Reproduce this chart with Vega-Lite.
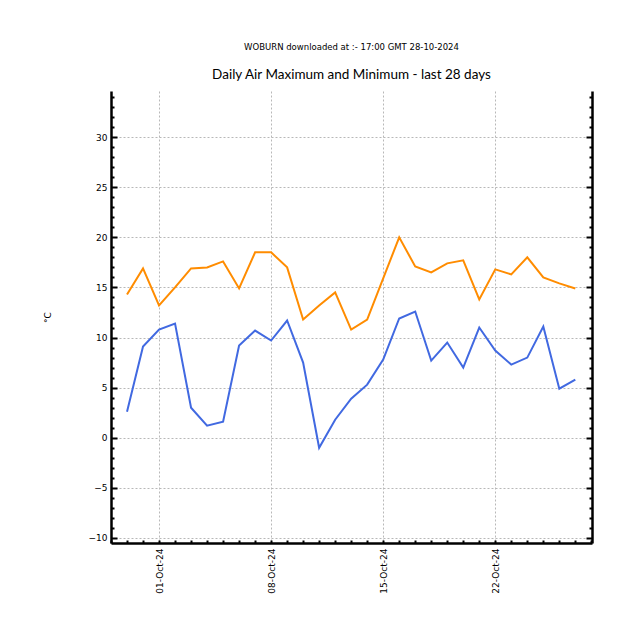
{
  "$schema": "https://vega.github.io/schema/vega-lite/v6.json",
  "width": 481,
  "height": 452,
  "autosize": {"type": "none"},
  "padding": {"left": 111, "top": 91, "right": 45, "bottom": 94},
  "background": "white",
  "config": {
    "view": {"stroke": null},
    "font": "DejaVu Sans"
  },
  "title": {
    "text": "WOBURN downloaded at :- 17:00 GMT 28-10-2024",
    "subtitle": "Daily Air Maximum and Minimum - last 28 days",
    "font": "DejaVu Sans",
    "fontSize": 8.5,
    "fontWeight": "normal",
    "color": "#000000",
    "subtitleFont": "Lato",
    "subtitleFontSize": 13.5,
    "subtitleColor": "#000000",
    "subtitlePadding": 16,
    "anchor": "middle",
    "offset": 10
  },
  "data": {
    "values": [
      {"date": "2024-09-29T00:00", "series": "Maximum", "temp": 14.3},
      {"date": "2024-09-30T00:00", "series": "Maximum", "temp": 16.9},
      {"date": "2024-10-01T00:00", "series": "Maximum", "temp": 13.2},
      {"date": "2024-10-02T00:00", "series": "Maximum", "temp": 15.0},
      {"date": "2024-10-03T00:00", "series": "Maximum", "temp": 16.9},
      {"date": "2024-10-04T00:00", "series": "Maximum", "temp": 17.0},
      {"date": "2024-10-05T00:00", "series": "Maximum", "temp": 17.6},
      {"date": "2024-10-06T00:00", "series": "Maximum", "temp": 14.9},
      {"date": "2024-10-07T00:00", "series": "Maximum", "temp": 18.5},
      {"date": "2024-10-08T00:00", "series": "Maximum", "temp": 18.5},
      {"date": "2024-10-09T00:00", "series": "Maximum", "temp": 17.0},
      {"date": "2024-10-10T00:00", "series": "Maximum", "temp": 11.8},
      {"date": "2024-10-11T00:00", "series": "Maximum", "temp": 13.2},
      {"date": "2024-10-12T00:00", "series": "Maximum", "temp": 14.5},
      {"date": "2024-10-13T00:00", "series": "Maximum", "temp": 10.8},
      {"date": "2024-10-14T00:00", "series": "Maximum", "temp": 11.8},
      {"date": "2024-10-15T00:00", "series": "Maximum", "temp": 15.9},
      {"date": "2024-10-16T00:00", "series": "Maximum", "temp": 20.0},
      {"date": "2024-10-17T00:00", "series": "Maximum", "temp": 17.1},
      {"date": "2024-10-18T00:00", "series": "Maximum", "temp": 16.5},
      {"date": "2024-10-19T00:00", "series": "Maximum", "temp": 17.4},
      {"date": "2024-10-20T00:00", "series": "Maximum", "temp": 17.7},
      {"date": "2024-10-21T00:00", "series": "Maximum", "temp": 13.8},
      {"date": "2024-10-22T00:00", "series": "Maximum", "temp": 16.8},
      {"date": "2024-10-23T00:00", "series": "Maximum", "temp": 16.3},
      {"date": "2024-10-24T00:00", "series": "Maximum", "temp": 18.0},
      {"date": "2024-10-25T00:00", "series": "Maximum", "temp": 16.0},
      {"date": "2024-10-26T00:00", "series": "Maximum", "temp": 15.4},
      {"date": "2024-10-27T00:00", "series": "Maximum", "temp": 14.9},
      {"date": "2024-09-29T00:00", "series": "Minimum", "temp": 2.6},
      {"date": "2024-09-30T00:00", "series": "Minimum", "temp": 9.1},
      {"date": "2024-10-01T00:00", "series": "Minimum", "temp": 10.8},
      {"date": "2024-10-02T00:00", "series": "Minimum", "temp": 11.4},
      {"date": "2024-10-03T00:00", "series": "Minimum", "temp": 3.0},
      {"date": "2024-10-04T00:00", "series": "Minimum", "temp": 1.2},
      {"date": "2024-10-05T00:00", "series": "Minimum", "temp": 1.6},
      {"date": "2024-10-06T00:00", "series": "Minimum", "temp": 9.2},
      {"date": "2024-10-07T00:00", "series": "Minimum", "temp": 10.7},
      {"date": "2024-10-08T00:00", "series": "Minimum", "temp": 9.7},
      {"date": "2024-10-09T00:00", "series": "Minimum", "temp": 11.7},
      {"date": "2024-10-10T00:00", "series": "Minimum", "temp": 7.5},
      {"date": "2024-10-11T00:00", "series": "Minimum", "temp": -1.0},
      {"date": "2024-10-12T00:00", "series": "Minimum", "temp": 1.8},
      {"date": "2024-10-13T00:00", "series": "Minimum", "temp": 3.9},
      {"date": "2024-10-14T00:00", "series": "Minimum", "temp": 5.3},
      {"date": "2024-10-15T00:00", "series": "Minimum", "temp": 7.8},
      {"date": "2024-10-16T00:00", "series": "Minimum", "temp": 11.9},
      {"date": "2024-10-17T00:00", "series": "Minimum", "temp": 12.6},
      {"date": "2024-10-18T00:00", "series": "Minimum", "temp": 7.7},
      {"date": "2024-10-19T00:00", "series": "Minimum", "temp": 9.5},
      {"date": "2024-10-20T00:00", "series": "Minimum", "temp": 7.0},
      {"date": "2024-10-21T00:00", "series": "Minimum", "temp": 11.0},
      {"date": "2024-10-22T00:00", "series": "Minimum", "temp": 8.7},
      {"date": "2024-10-23T00:00", "series": "Minimum", "temp": 7.3},
      {"date": "2024-10-24T00:00", "series": "Minimum", "temp": 8.0},
      {"date": "2024-10-25T00:00", "series": "Minimum", "temp": 11.1},
      {"date": "2024-10-26T00:00", "series": "Minimum", "temp": 4.9},
      {"date": "2024-10-27T00:00", "series": "Minimum", "temp": 5.8}
    ]
  },
  "layer": [
    {
      "mark": {"type": "line", "strokeWidth": 2},
      "encoding": {
        "x": {
          "field": "date",
          "type": "temporal",
          "scale": {"domain": [{"year": 2024, "month": 9, "date": 28}, {"year": 2024, "month": 10, "date": 28, "hours": 1}]},
          "axis": {
            "orient": "bottom",
            "title": null,
            "tickCount": {"interval": "day", "step": 1},
            "labelExpr": "(month(datum.value) == 9 && indexof([1, 8, 15, 22], date(datum.value)) >= 0) ? timeFormat(datum.value, '%d-%b-%y') : ''",
            "labelAngle": -90,
            "labelAlign": "right",
            "labelBaseline": "middle",
            "labelFontSize": 9,
            "labelColor": "#000000",
            "labelPadding": 8,
            "labelOverlap": false,
            "labelFlush": false,
            "domainColor": "#000000",
            "domainWidth": 2.5,
            "tickColor": "#000000",
            "tickWidth": 2,
            "tickSize": -3,
            "grid": true,
            "gridColor": "#b8b8b8",
            "gridDash": [2, 2],
            "gridWidth": 1,
            "gridOpacity": {"condition": {"test": "month(datum.value) == 9 && indexof([1, 8, 15, 22], date(datum.value)) >= 0", "value": 1}, "value": 0}
          }
        },
        "y": {
          "field": "temp",
          "type": "quantitative",
          "scale": {"domain": [-10.5, 34.6], "nice": false, "zero": false},
          "axis": {
            "orient": "left",
            "title": "°C",
            "titleFont": "DejaVu Sans",
            "titleFontSize": 9,
            "titleFontWeight": "normal",
            "titleColor": "#000000",
            "titlePadding": 36,
            "values": [-10, -9, -8, -7, -6, -5, -4, -3, -2, -1, 0, 1, 2, 3, 4, 5, 6, 7, 8, 9, 10, 11, 12, 13, 14, 15, 16, 17, 18, 19, 20, 21, 22, 23, 24, 25, 26, 27, 28, 29, 30, 31, 32, 33, 34],
            "labelExpr": "datum.value % 5 == 0 ? datum.label : ''",
            "labelFontSize": 9,
            "labelColor": "#000000",
            "labelPadding": 10,
            "labelOverlap": false,
            "labelFlush": false,
            "domainColor": "#000000",
            "domainWidth": 2.5,
            "tickColor": "#000000",
            "tickWidth": 2,
            "tickSize": {"condition": {"test": "datum.value % 5 == 0", "value": -6}, "value": -3},
            "grid": true,
            "gridColor": "#b8b8b8",
            "gridDash": [2, 2],
            "gridWidth": 1,
            "gridOpacity": {"condition": {"test": "datum.value % 5 == 0", "value": 1}, "value": 0}
          }
        },
        "color": {
          "field": "series",
          "type": "nominal",
          "scale": {"domain": ["Maximum", "Minimum"], "range": ["#ff8c00", "#4169e1"]},
          "legend": null
        }
      }
    },
    {
      "mark": {"type": "line", "strokeWidth": 2, "opacity": 0},
      "encoding": {
        "x": {"field": "date", "type": "temporal"},
        "y": {
          "field": "temp",
          "type": "quantitative",
          "axis": {
            "orient": "right",
            "title": null,
            "values": [-10, -9, -8, -7, -6, -5, -4, -3, -2, -1, 0, 1, 2, 3, 4, 5, 6, 7, 8, 9, 10, 11, 12, 13, 14, 15, 16, 17, 18, 19, 20, 21, 22, 23, 24, 25, 26, 27, 28, 29, 30, 31, 32, 33, 34],
            "labels": false,
            "grid": false,
            "domainColor": "#000000",
            "domainWidth": 2.5,
            "tickColor": "#000000",
            "tickWidth": 2,
            "tickSize": {"condition": {"test": "datum.value % 5 == 0", "value": -6}, "value": -3}
          }
        },
        "detail": {"field": "series", "type": "nominal"}
      }
    }
  ],
  "resolve": {"axis": {"y": "independent"}}
}
